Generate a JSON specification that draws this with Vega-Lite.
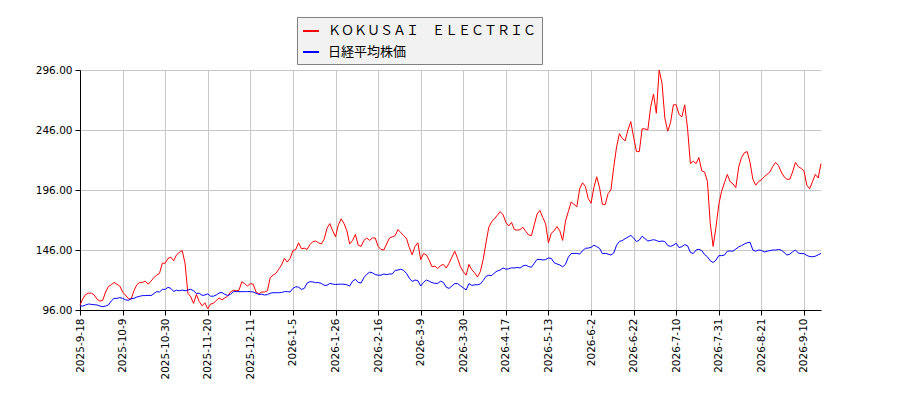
{
  "$schema": "https://vega.github.io/schema/vega-lite/v6.json",
  "width": 741,
  "height": 240,
  "autosize": {"type": "none"},
  "padding": {"left": 80, "top": 70, "right": 79, "bottom": 90},
  "background": "white",
  "config": {
    "view": {"stroke": null},
    "axis": {
      "title": null,
      "grid": true,
      "gridColor": "#c8c8c8",
      "gridWidth": 1,
      "domainColor": "#000000",
      "tickColor": "#000000",
      "tickSize": 5,
      "labelColor": "#000000",
      "labelFont": "DejaVu Sans",
      "labelFontSize": 10.5,
      "labelPadding": 3
    }
  },
  "data": {
    "values": [
      {"i": 0, "k": 100, "n": 99.3}, {"i": 1, "k": 105.5, "n": 99.3}, {"i": 2, "k": 109, "n": 100.2}, {"i": 3, "k": 110, "n": 101},
      {"i": 4, "k": 110, "n": 100.7}, {"i": 5, "k": 108.5, "n": 100.4}, {"i": 6, "k": 105, "n": 100.2}, {"i": 7, "k": 103.5, "n": 99.3},
      {"i": 8, "k": 104, "n": 98.8}, {"i": 9, "k": 111, "n": 99.3}, {"i": 10, "k": 115.5, "n": 100.2}, {"i": 11, "k": 117, "n": 103.5},
      {"i": 12, "k": 119, "n": 105.7}, {"i": 13, "k": 117.5, "n": 105.7}, {"i": 14, "k": 116, "n": 106.3}, {"i": 15, "k": 111, "n": 105.7},
      {"i": 16, "k": 108.5, "n": 104.6}, {"i": 17, "k": 105.5, "n": 104}, {"i": 18, "k": 105, "n": 105.4}, {"i": 19, "k": 112, "n": 105.7},
      {"i": 20, "k": 117, "n": 106.8}, {"i": 21, "k": 119, "n": 107.4}, {"i": 22, "k": 119, "n": 108}, {"i": 23, "k": 120, "n": 108},
      {"i": 24, "k": 117.5, "n": 108.2}, {"i": 25, "k": 120, "n": 108}, {"i": 26, "k": 123, "n": 109.6}, {"i": 27, "k": 125, "n": 111.3},
      {"i": 28, "k": 126.5, "n": 111}, {"i": 29, "k": 135, "n": 113.2}, {"i": 30, "k": 135, "n": 113.2}, {"i": 31, "k": 139, "n": 114.9},
      {"i": 32, "k": 140, "n": 114}, {"i": 33, "k": 137, "n": 111.5}, {"i": 34, "k": 142, "n": 112.5}, {"i": 35, "k": 144, "n": 112},
      {"i": 36, "k": 145.5, "n": 112.7}, {"i": 37, "k": 135, "n": 112}, {"i": 38, "k": 110, "n": 112.7}, {"i": 39, "k": 107, "n": 113.3},
      {"i": 40, "k": 101.5, "n": 112}, {"i": 41, "k": 109, "n": 109.8}, {"i": 42, "k": 103, "n": 110}, {"i": 43, "k": 99.5, "n": 108.2},
      {"i": 44, "k": 102, "n": 108.5}, {"i": 45, "k": 97, "n": 109.5}, {"i": 46, "k": 101, "n": 107.5}, {"i": 47, "k": 101.5, "n": 107.5},
      {"i": 48, "k": 104, "n": 108.5}, {"i": 49, "k": 106, "n": 110.2}, {"i": 50, "k": 104.5, "n": 110.6}, {"i": 51, "k": 106, "n": 109},
      {"i": 52, "k": 107.5, "n": 108.2}, {"i": 53, "k": 111, "n": 109}, {"i": 54, "k": 112.5, "n": 111.3}, {"i": 55, "k": 112, "n": 111.3},
      {"i": 56, "k": 112.5, "n": 111.3}, {"i": 57, "k": 119.5, "n": 111.3}, {"i": 58, "k": 118, "n": 111.3}, {"i": 59, "k": 116, "n": 111.3},
      {"i": 60, "k": 118, "n": 111.3}, {"i": 61, "k": 117.5, "n": 111}, {"i": 62, "k": 111, "n": 110}, {"i": 63, "k": 109.5, "n": 109},
      {"i": 64, "k": 111, "n": 109.2}, {"i": 65, "k": 111, "n": 108.5}, {"i": 66, "k": 112, "n": 108.8}, {"i": 67, "k": 123, "n": 110},
      {"i": 68, "k": 125, "n": 110.4}, {"i": 69, "k": 126.5, "n": 110.4}, {"i": 70, "k": 130, "n": 110.4}, {"i": 71, "k": 133.5, "n": 110.6},
      {"i": 72, "k": 139, "n": 111.3}, {"i": 73, "k": 136, "n": 111.3}, {"i": 74, "k": 139, "n": 111}, {"i": 75, "k": 145.5, "n": 114},
      {"i": 76, "k": 146.5, "n": 115.4}, {"i": 77, "k": 152, "n": 115}, {"i": 78, "k": 147, "n": 113.2}, {"i": 79, "k": 147.5, "n": 114},
      {"i": 80, "k": 146.5, "n": 118.5}, {"i": 81, "k": 150.5, "n": 119.6}, {"i": 82, "k": 153, "n": 119.4}, {"i": 83, "k": 153.5, "n": 118.8},
      {"i": 84, "k": 152, "n": 118.8}, {"i": 85, "k": 151, "n": 118.2}, {"i": 86, "k": 155, "n": 116.6}, {"i": 87, "k": 164, "n": 116.6},
      {"i": 88, "k": 168, "n": 118.2}, {"i": 89, "k": 162, "n": 117.6}, {"i": 90, "k": 157, "n": 117.2}, {"i": 91, "k": 167, "n": 117.5},
      {"i": 92, "k": 172, "n": 117.5}, {"i": 93, "k": 168, "n": 117.5}, {"i": 94, "k": 162, "n": 117}, {"i": 95, "k": 151, "n": 116},
      {"i": 96, "k": 154, "n": 120}, {"i": 97, "k": 159, "n": 121.6}, {"i": 98, "k": 150, "n": 119}, {"i": 99, "k": 149, "n": 118.5},
      {"i": 100, "k": 154, "n": 123}, {"i": 101, "k": 156, "n": 125.7}, {"i": 102, "k": 154, "n": 127.5}, {"i": 103, "k": 156, "n": 127},
      {"i": 104, "k": 156, "n": 125.5}, {"i": 105, "k": 149, "n": 125}, {"i": 106, "k": 146.5, "n": 125}, {"i": 107, "k": 146, "n": 126},
      {"i": 108, "k": 151, "n": 125.5}, {"i": 109, "k": 156, "n": 126}, {"i": 110, "k": 157, "n": 126}, {"i": 111, "k": 158, "n": 129},
      {"i": 112, "k": 163, "n": 129.3}, {"i": 113, "k": 160.5, "n": 130}, {"i": 114, "k": 158, "n": 129}, {"i": 115, "k": 155.5, "n": 126.5},
      {"i": 116, "k": 148, "n": 122.5}, {"i": 117, "k": 142, "n": 119.8}, {"i": 118, "k": 149, "n": 121}, {"i": 119, "k": 152, "n": 120.5},
      {"i": 120, "k": 138, "n": 116}, {"i": 121, "k": 143, "n": 119}, {"i": 122, "k": 142, "n": 121}, {"i": 123, "k": 137.5, "n": 120},
      {"i": 124, "k": 132, "n": 118.8}, {"i": 125, "k": 132.5, "n": 118.2}, {"i": 126, "k": 130.5, "n": 118.2}, {"i": 127, "k": 133, "n": 120},
      {"i": 128, "k": 134, "n": 119}, {"i": 129, "k": 131, "n": 115}, {"i": 130, "k": 135, "n": 114}, {"i": 131, "k": 140, "n": 116},
      {"i": 132, "k": 145, "n": 118}, {"i": 133, "k": 139, "n": 118}, {"i": 134, "k": 132, "n": 116.2}, {"i": 135, "k": 128, "n": 114.5},
      {"i": 136, "k": 125, "n": 112.7}, {"i": 137, "k": 134, "n": 118}, {"i": 138, "k": 129.5, "n": 116.5}, {"i": 139, "k": 127, "n": 117},
      {"i": 140, "k": 123.5, "n": 117}, {"i": 141, "k": 128, "n": 117.7}, {"i": 142, "k": 138, "n": 120.5}, {"i": 143, "k": 152, "n": 124},
      {"i": 144, "k": 165, "n": 125}, {"i": 145, "k": 169.5, "n": 124.6}, {"i": 146, "k": 172, "n": 127}, {"i": 147, "k": 175, "n": 128.5},
      {"i": 148, "k": 178, "n": 129.3}, {"i": 149, "k": 175.5, "n": 131}, {"i": 150, "k": 169, "n": 130}, {"i": 151, "k": 166, "n": 130.3},
      {"i": 152, "k": 169, "n": 131.2}, {"i": 153, "k": 163, "n": 131}, {"i": 154, "k": 162.5, "n": 131.5}, {"i": 155, "k": 163, "n": 131},
      {"i": 156, "k": 165, "n": 132.7}, {"i": 157, "k": 161.5, "n": 133.3}, {"i": 158, "k": 158.5, "n": 132.2}, {"i": 159, "k": 158, "n": 131.6},
      {"i": 160, "k": 167, "n": 134.9}, {"i": 161, "k": 176, "n": 138.2}, {"i": 162, "k": 179, "n": 138.2}, {"i": 163, "k": 173, "n": 137.7},
      {"i": 164, "k": 168, "n": 138}, {"i": 165, "k": 152, "n": 139.4}, {"i": 166, "k": 160, "n": 139}, {"i": 167, "k": 162, "n": 135.4},
      {"i": 168, "k": 165.5, "n": 134.4}, {"i": 169, "k": 162, "n": 133.5}, {"i": 170, "k": 154, "n": 132}, {"i": 171, "k": 170, "n": 134},
      {"i": 172, "k": 178, "n": 140}, {"i": 173, "k": 186, "n": 143}, {"i": 174, "k": 184, "n": 143.2}, {"i": 175, "k": 182, "n": 143.2},
      {"i": 176, "k": 197, "n": 142.6}, {"i": 177, "k": 202, "n": 145.4}, {"i": 178, "k": 199, "n": 147.4}, {"i": 179, "k": 189, "n": 147.6},
      {"i": 180, "k": 185, "n": 148.2}, {"i": 181, "k": 198, "n": 150}, {"i": 182, "k": 207, "n": 148.8}, {"i": 183, "k": 198, "n": 147.4},
      {"i": 184, "k": 184, "n": 143}, {"i": 185, "k": 184, "n": 143.2}, {"i": 186, "k": 193, "n": 142.6}, {"i": 187, "k": 196, "n": 141.8},
      {"i": 188, "k": 215, "n": 143.5}, {"i": 189, "k": 232, "n": 150}, {"i": 190, "k": 243, "n": 153.2}, {"i": 191, "k": 239, "n": 153.8},
      {"i": 192, "k": 237, "n": 155.4}, {"i": 193, "k": 246, "n": 156.8}, {"i": 194, "k": 253, "n": 158.2}, {"i": 195, "k": 240, "n": 156},
      {"i": 196, "k": 228, "n": 153}, {"i": 197, "k": 228, "n": 154.3}, {"i": 198, "k": 247, "n": 157.5}, {"i": 199, "k": 247, "n": 155.5},
      {"i": 200, "k": 246, "n": 153.5}, {"i": 201, "k": 265, "n": 154}, {"i": 202, "k": 276, "n": 154.6}, {"i": 203, "k": 260, "n": 154},
      {"i": 204, "k": 296, "n": 153}, {"i": 205, "k": 285, "n": 153.5}, {"i": 206, "k": 256, "n": 153}, {"i": 207, "k": 245, "n": 149.8},
      {"i": 208, "k": 252, "n": 149}, {"i": 209, "k": 267, "n": 150}, {"i": 210, "k": 267, "n": 151.6}, {"i": 211, "k": 259, "n": 148},
      {"i": 212, "k": 257, "n": 148.8}, {"i": 213, "k": 267, "n": 150.5}, {"i": 214, "k": 247, "n": 149.5}, {"i": 215, "k": 218, "n": 144},
      {"i": 216, "k": 220, "n": 143}, {"i": 217, "k": 218, "n": 146}, {"i": 218, "k": 223, "n": 146.6}, {"i": 219, "k": 212, "n": 145.5},
      {"i": 220, "k": 211, "n": 142.2}, {"i": 221, "k": 203, "n": 140.3}, {"i": 222, "k": 168, "n": 137}, {"i": 223, "k": 149, "n": 135.6},
      {"i": 224, "k": 165, "n": 137.5}, {"i": 225, "k": 184, "n": 141.3}, {"i": 226, "k": 195, "n": 141.3}, {"i": 227, "k": 202, "n": 141.8},
      {"i": 228, "k": 209, "n": 145}, {"i": 229, "k": 203, "n": 145.2}, {"i": 230, "k": 201, "n": 145}, {"i": 231, "k": 198, "n": 146.8},
      {"i": 232, "k": 215, "n": 148.6}, {"i": 233, "k": 223, "n": 149.6}, {"i": 234, "k": 227, "n": 151}, {"i": 235, "k": 228, "n": 152},
      {"i": 236, "k": 219, "n": 152.5}, {"i": 237, "k": 205, "n": 146}, {"i": 238, "k": 200, "n": 145}, {"i": 239, "k": 203, "n": 146},
      {"i": 240, "k": 204.5, "n": 145.7}, {"i": 241, "k": 207, "n": 144.3}, {"i": 242, "k": 209, "n": 145}, {"i": 243, "k": 211, "n": 145.5},
      {"i": 244, "k": 215.5, "n": 146}, {"i": 245, "k": 219, "n": 146}, {"i": 246, "k": 216.5, "n": 146.4}, {"i": 247, "k": 211, "n": 145.9},
      {"i": 248, "k": 207, "n": 144}, {"i": 249, "k": 205, "n": 141.8}, {"i": 250, "k": 205, "n": 142.5}, {"i": 251, "k": 211, "n": 144.5},
      {"i": 252, "k": 219, "n": 146}, {"i": 253, "k": 215.5, "n": 143.5}, {"i": 254, "k": 214, "n": 143}, {"i": 255, "k": 212, "n": 143},
      {"i": 256, "k": 200, "n": 141.5}, {"i": 257, "k": 197, "n": 140.5}, {"i": 258, "k": 203, "n": 140.4}, {"i": 259, "k": 209, "n": 140.8},
      {"i": 260, "k": 206, "n": 142}, {"i": 261, "k": 218, "n": 143.2}
    ]
  },
  "encoding": {
    "x": {
      "field": "i",
      "type": "quantitative",
      "scale": {"domain": [0, 261], "nice": false, "zero": false},
      "axis": {
        "values": [0, 15, 30, 45, 60, 75, 90, 105, 120, 135, 150, 165, 180, 195, 210, 225, 240, 255],
        "labelExpr": "['2025-9-18','2025-10-9','2025-10-30','2025-11-20','2025-12-11','2026-1-5','2026-1-26','2026-2-16','2026-3-9','2026-3-30','2026-4-17','2026-5-13','2026-6-2','2026-6-22','2026-7-10','2026-7-31','2026-8-21','2026-9-10'][round(datum.value / 15)]",
        "labelAngle": 270,
        "labelFlush": false,
        "labelOverlap": false
      }
    }
  },
  "layer": [
    {
      "mark": {"type": "line", "strokeWidth": 1},
      "encoding": {
        "y": {
          "field": "k",
          "type": "quantitative",
          "scale": {"domain": [96, 296], "nice": false, "zero": false},
          "axis": {"values": [96, 146, 196, 246, 296], "format": ".2f"}
        },
        "color": {
          "datum": "ＫＯＫＵＳＡＩ　ＥＬＥＣＴＲＩＣ",
          "type": "nominal",
          "scale": {
            "domain": ["ＫＯＫＵＳＡＩ　ＥＬＥＣＴＲＩＣ", "日経平均株価"],
            "range": ["#ff0000", "#0000ff"]
          },
          "legend": {
            "title": null,
            "orient": "none",
            "legendX": 217,
            "legendY": -53,
            "direction": "vertical",
            "fillColor": "#f2f2f2",
            "strokeColor": "#808080",
            "padding": 5,
            "cornerRadius": 0,
            "symbolType": "stroke",
            "symbolStrokeWidth": 2,
            "symbolSize": 256,
            "labelFont": "Noto Sans CJK JP",
            "labelFontSize": 13,
            "labelColor": "#000000",
            "labelLimit": 0,
            "labelOffset": 8,
            "rowPadding": 5
          }
        }
      }
    },
    {
      "mark": {"type": "line", "strokeWidth": 1},
      "encoding": {
        "y": {"field": "n", "type": "quantitative"},
        "color": {"datum": "日経平均株価", "type": "nominal"}
      }
    }
  ]
}
